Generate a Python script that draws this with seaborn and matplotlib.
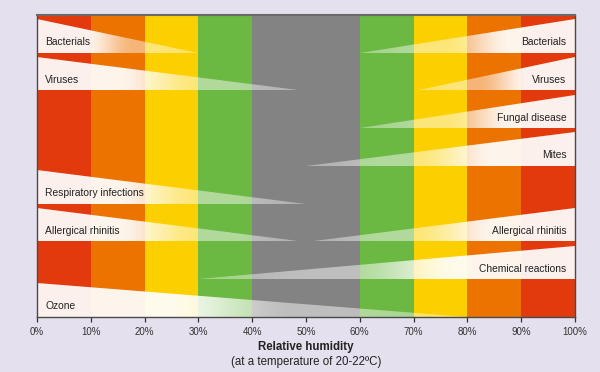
import numpy as np
import pandas as pd
import matplotlib
matplotlib.use("Agg")
import matplotlib.pyplot as plt
from matplotlib.patches import Polygon
import seaborn as sns

# ---- data ----
band_centers = [5, 15, 25, 35, 45, 55, 65, 75, 85, 95]
band_zone = ["red", "orange", "yellow", "green", "gray", "gray", "green", "yellow", "orange", "red"]
zone_colors = {"red": "#e23a0d", "orange": "#ec7300", "yellow": "#fcd000",
               "green": "#6bb843", "gray": "#838383"}

wedge_labels = ["Bacterials", "Viruses", "Respiratory infections", "Allergical rhinitis", "Ozone",
                "Bacterials", "Viruses", "Fungal disease", "Mites", "Allergical rhinitis",
                "Chemical reactions"]
wedge_side = ["left", "left", "left", "left", "left",
              "right", "right", "right", "right", "right", "right"]
wedge_row = [0, 1, 4, 5, 7, 0, 1, 2, 3, 5, 6]
wedge_tip = [30, 50, 50, 50, 80, 60, 70, 60, 50, 50, 30]

tick_values = [0, 10, 20, 30, 40, 50, 60, 70, 80, 90, 100]
tick_labels = [f"{v}%" for v in tick_values]
n_rows = 8

sns.set_style("white")
plt.rcParams["font.family"] = ["Liberation Sans", "DejaVu Sans"]

bg = "#e5e0ed"
fig = plt.figure(figsize=(6.0, 3.72), dpi=100, facecolor=bg)
ax = fig.add_axes([37 / 600, 1 - 317 / 372, 538 / 600, 302 / 372])
ax.set_facecolor(bg)

bands = pd.DataFrame({"x": band_centers, "h": [n_rows] * len(band_centers), "zone": band_zone})
sns.barplot(data=bands, x="x", y="h", hue="zone", palette=zone_colors, native_scale=True,
            width=1.0, saturation=1, legend=False, linewidth=0, ax=ax, dodge=False)

ax.set_xlim(0, 100)
ax.set_ylim(n_rows, 0)

gap = 4 / 37.75
N = 400
t = np.linspace(0, 1, N)


def smooth(a, b, x):
    s = np.clip((x - a) / (b - a), 0, 1)
    return s * s * (3 - 2 * s)


alpha = 0.93 - 0.45 * smooth(0.3, 0.6, t) - 0.1 * smooth(0.7, 1.0, t)

for lab, side, row, tip in zip(wedge_labels, wedge_side, wedge_row, wedge_tip):
    top = row + gap
    bot = row + 1
    base = 0 if side == "left" else 100
    poly = Polygon([(base, top), (base, bot), (tip, bot)], closed=True,
                   facecolor="none", edgecolor="none")
    ax.add_patch(poly)
    img = np.ones((1, N, 4))
    if side == "left":
        img[0, :, 3] = alpha
        extent = [0, tip, bot, top]
    else:
        img[0, :, 3] = alpha[::-1]
        extent = [tip, 100, bot, top]
    im = ax.imshow(img, extent=extent, aspect="auto", interpolation="bilinear", zorder=3)
    im.set_clip_path(poly)
    if side == "left":
        ax.text(1.5, bot - 0.2, lab, ha="left", va="baseline", fontsize=7.4,
                color="#222222", zorder=5)
    else:
        ax.text(98.45, bot - 0.2, lab, ha="right", va="baseline", fontsize=7.4,
                color="#222222", zorder=5)

ax.set_xlim(0, 100)
ax.set_ylim(n_rows, 0)
ax.set_xticks(tick_values)
ax.set_xticklabels(tick_labels)
ax.set_yticks([])
ax.set_xlabel("")
ax.set_ylabel("")
ax.tick_params(axis="x", direction="out", length=3.3, width=0.9, color="#333333",
               labelsize=7, labelcolor="#333333", pad=4, bottom=True)
for s in ax.spines.values():
    s.set_visible(True)
    s.set_color("#4a4a4a")
    s.set_linewidth(1.0)
    s.set_zorder(6)
ax.spines["top"].set_color("#6a6a6a")
ax.spines["top"].set_linewidth(1.5)

fig.text(306 / 600, 1 - 347.3 / 372, "Relative humidity", ha="center", va="center",
         fontsize=8.3, fontweight="bold", color="#222222")
fig.text(306 / 600, 1 - 362.3 / 372, "(at a temperature of 20-22ºC)", ha="center",
         va="center", fontsize=8.3, color="#222222")

fig.savefig("out.png", dpi=100, facecolor=bg)
